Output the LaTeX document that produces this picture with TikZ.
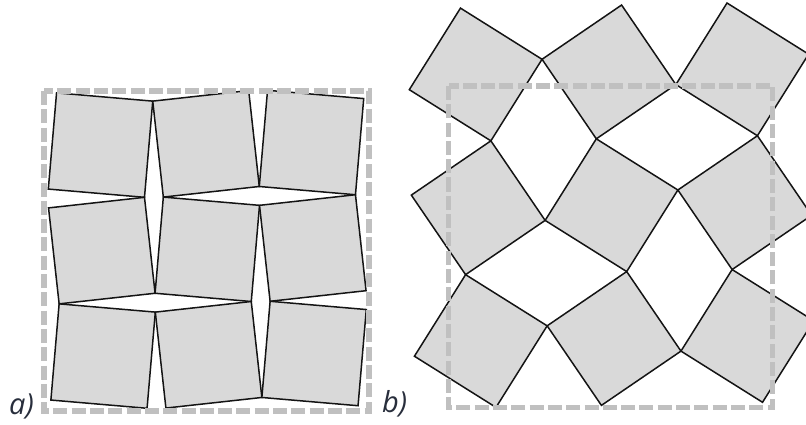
\documentclass[tikz,border=0pt]{standalone}
\usepackage{fontspec}
\newfontfamily\lblfont{Open Sans}
\definecolor{sqfill}{RGB}{217,217,217}
\definecolor{boxgray}{RGB}{192,192,192}
\definecolor{lblcol}{RGB}{40,46,60}
% cx cy d phi tilt
\newcommand\rotlattice[5]{%
  \begin{scope}[shift={(#1,#2)}, rotate=#5]
    \pgfmathsetmacro\hs{0.5*#3/(cos(#4)+sin(#4))}
    \foreach \i in {-1,0,1}{\foreach \j in {-1,0,1}{
      \pgfmathsetmacro\ang{mod(\i+\j+2,2)==0 ? -#4 : #4}
      \draw[sq, shift={(\i*#3,\j*#3)}, rotate=\ang]
        (-\hs,-\hs) -- (\hs,-\hs) -- (\hs,\hs) -- (-\hs,\hs) -- cycle;
    }}
  \end{scope}}
\begin{document}
\begin{tikzpicture}[x=1pt,y=-1pt,
  sq/.style={fill=sqfill, draw=black!92, line width=1.5pt, line join=miter},
  frame/.style={draw=boxgray, line width=5.5pt, dash pattern=on 14pt off 4.3pt},
  lbl/.style={font=\lblfont\itshape\fontsize{29}{29}\selectfont, text=lblcol, inner sep=0pt, anchor=base west}]
\path[use as bounding box] (0,0) rectangle (806,425);
\clip (0,0) rectangle (806,425);
% panel a
\rotlattice{207.3}{249.3}{105.5}{5.6}{0.7}
\draw[frame] (44,91) rectangle (369,411);
% panel b
\rotlattice{611.5}{205.2}{133.3}{33.2}{1.1}
\draw[frame] (448.5,86) rectangle (772.5,407.5);
% labels
\node[lbl] (la) at (9,414) {a)};
\node[lbl] (lb) at (382,412.5) {b)};
\end{tikzpicture}
\end{document}
